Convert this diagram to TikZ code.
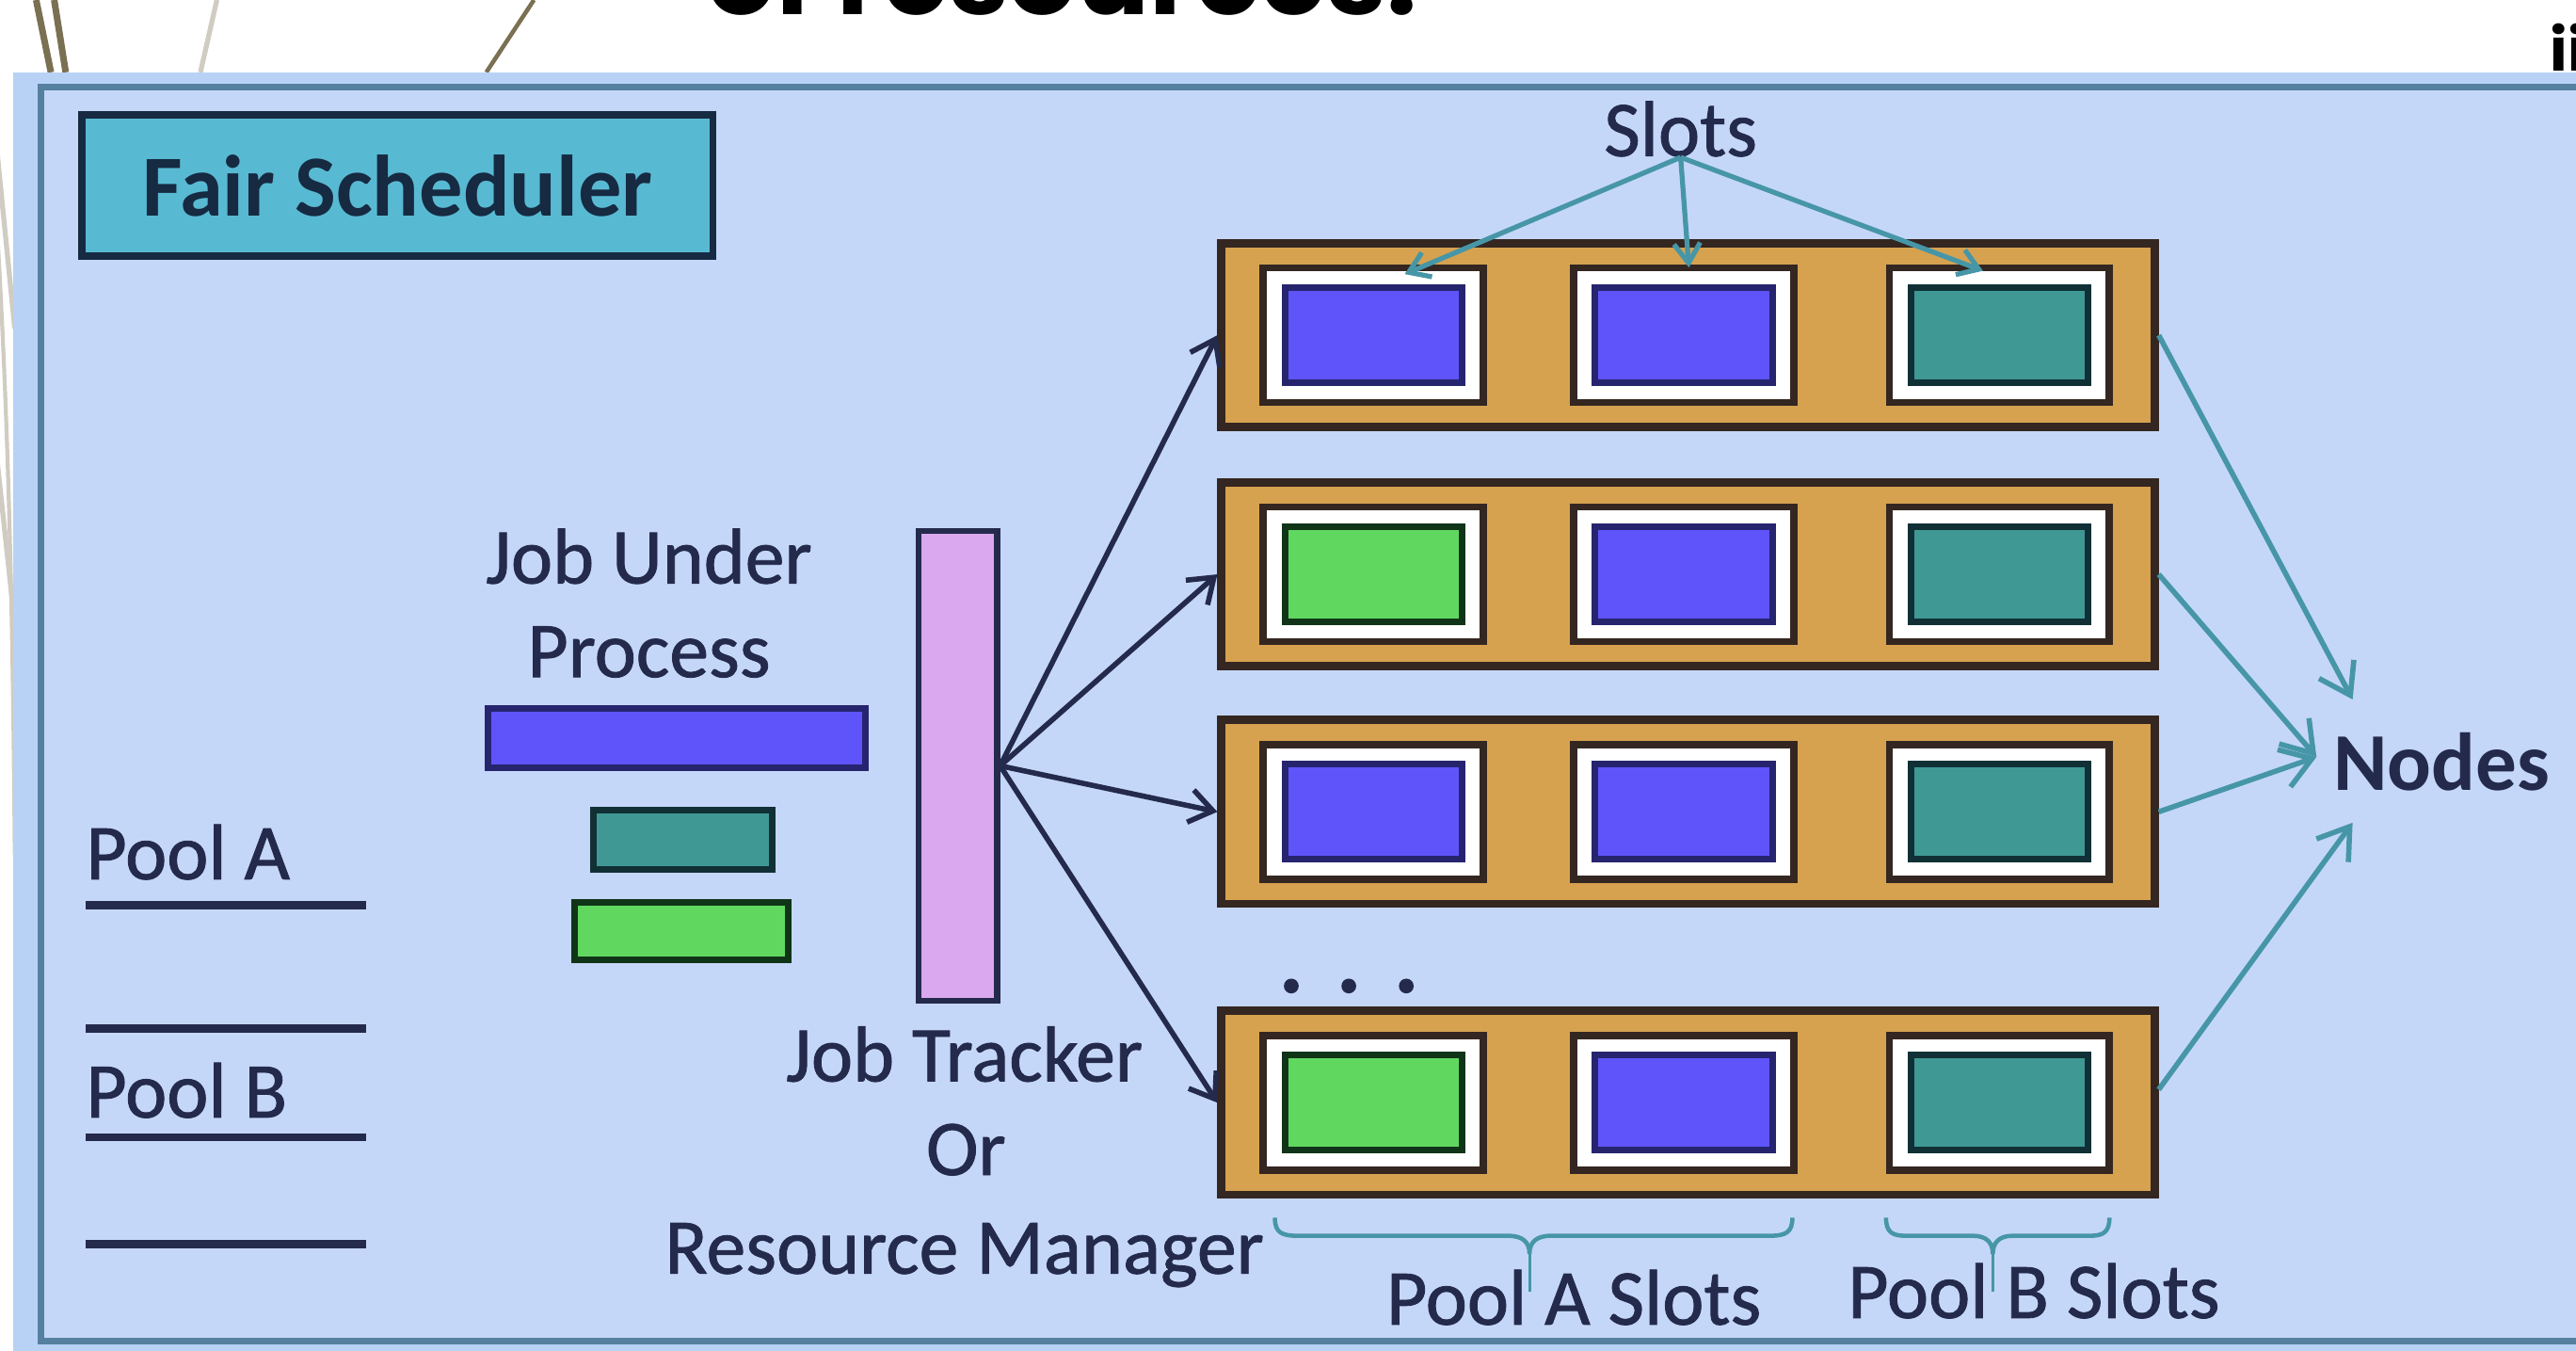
\documentclass[tikz,border=0pt]{standalone}
\usepackage{fontspec}
\setmainfont{Carlito}
\newfontfamily\lblfont{Carlito}[FakeBold=1.0]
\newfontfamily\headfont{Poppins}
\usetikzlibrary{arrows.meta,calc}

\definecolor{panelfill}{RGB}{197,215,248}
\definecolor{panelband}{RGB}{184,210,245}
\definecolor{panelline}{RGB}{86,128,160}
\definecolor{ink}{RGB}{36,42,76}
\definecolor{fsfill}{RGB}{88,186,210}
\definecolor{fsline}{RGB}{22,42,66}
\definecolor{nodefill}{RGB}{214,162,80}
\definecolor{nodeline}{RGB}{52,38,32}
\definecolor{jobblue}{RGB}{94,84,250}
\definecolor{jobblueline}{RGB}{38,36,110}
\definecolor{jobteal}{RGB}{64,152,148}
\definecolor{jobtealline}{RGB}{16,48,54}
\definecolor{jobgreen}{RGB}{96,216,96}
\definecolor{jobgreenline}{RGB}{16,52,24}
\definecolor{trackerfill}{RGB}{218,168,238}
\definecolor{arrowteal}{RGB}{70,150,168}
\definecolor{olive}{RGB}{122,112,82}
\definecolor{pale}{RGB}{208,204,194}

% one drawing unit
\newcommand{\dpx}{0.5pt}

\tikzset{
  lbl/.style={inner sep=0pt, text=ink, font=\lblfont\fontsize{24}{28}\selectfont},
  rowbox/.style={draw=nodeline, line width=2.5pt, fill=nodefill,
    minimum width=568*\dpx, minimum height=112*\dpx, inner sep=0pt},
  slotframe/.style={draw=nodeline, line width=2.2pt, fill=white,
    minimum width=134*\dpx, minimum height=82*\dpx, inner sep=0pt},
  task/.style={line width=2pt, minimum width=108*\dpx, minimum height=58*\dpx, inner sep=0pt},
  taskblue/.style={task, draw=jobblueline, fill=jobblue},
  taskteal/.style={task, draw=jobtealline, fill=jobteal},
  taskgreen/.style={task, draw=jobgreenline, fill=jobgreen},
  bar/.style={line width=2pt, inner sep=0pt},
  jtarrow/.style={draw=ink, line width=1.6pt, -{Straight Barb[length=7pt,width=10pt]}},
  ndarrow/.style={draw=arrowteal, line width=1.6pt, -{Straight Barb[length=9pt,width=12pt]}},
  slotarrow/.style={draw=arrowteal, line width=1.5pt, -{Straight Barb[length=6pt,width=8pt]}},
  bracket/.style={draw=arrowteal, line width=1.3pt},
  poolline/.style={draw=ink, line width=2.5pt},
}

\begin{document}
\begin{tikzpicture}[x=0.5pt, y=-0.5pt]
\useasboundingbox (0,0) rectangle (1568,822);
\clip (0,0) rectangle (1568,822);

% slide background and decorative strokes
\fill[white] (0,0) rectangle (1568,822);
\draw[pale, line width=1.5pt] (-5,60) -- (9,200);
\draw[pale, line width=1.5pt] (-5,250) -- (9,380);
\draw[pale, line width=1.2pt] (-3,120) .. controls (6,260) and (8,400) .. (9,520);
\draw[olive, line width=2pt] (22,0) -- (31,44);
\draw[olive, line width=2pt] (33,0) -- (40,44);
\draw[pale, line width=1.5pt] (132,0) -- (122,44);
\draw[olive, line width=1.3pt] (325,0) -- (296,44);

% heading text running off the top edge
\node[anchor=base west, inner sep=0pt, text=black] (heading) at (430,9)
  {\resizebox{216pt}{!}{\headfont\bfseries of resources.}};
\node[anchor=base west, inner sep=0pt, text=black] (sidetext) at (1552,43)
  {\headfont\bfseries\fontsize{18}{20}\selectfont ii};

% diagram panel
\fill[panelband] (8,44) rectangle (1580,830);
\draw[panelline, line width=2pt, fill=panelfill] (25,53) rectangle (1600,816);

% title box
\node[draw=fsline, line width=2.2pt, fill=fsfill, minimum width=384*\dpx,
  minimum height=86*\dpx, inner sep=0pt, text=fsline,
  font=\bfseries\fontsize{26.5}{30}\selectfont] (fs) at (242,113) {Fair Scheduler};

% pools
\node[lbl, anchor=base west] (poolA) at (52,535) {Pool A};
\node[lbl, anchor=base west] (poolB) at (52,680) {Pool B};
\draw[poolline] (52,551) -- (223,551);
\draw[poolline] (52,626) -- (223,626);
\draw[poolline] (52,692) -- (223,692);
\draw[poolline] (52,757) -- (223,757);

% jobs under process
\node[lbl, anchor=base] (jup1) at (395,355) {Job Under};
\node[lbl, anchor=base] (jup2) at (395,412) {Process};
\node[bar, draw=jobblueline, fill=jobblue, minimum width=230*\dpx, minimum height=36*\dpx] (jobA) at (412,449) {};
\node[bar, draw=jobtealline, fill=jobteal, minimum width=109*\dpx, minimum height=36*\dpx] (jobB) at (415.5,511) {};
\node[bar, draw=jobgreenline, fill=jobgreen, minimum width=130*\dpx, minimum height=35*\dpx] (jobC) at (415,566.5) {};

% job tracker
\node[draw=ink, line width=1.8pt, fill=trackerfill, minimum width=48*\dpx,
  minimum height=286*\dpx, inner sep=0pt] (tracker) at (583,466) {};
\node[lbl, anchor=base] (jt1) at (587,658) {Job Tracker};
\node[lbl, anchor=base] (jt2) at (588,715) {Or};
\node[lbl, anchor=base] (jt3) at (587,775) {Resource Manager};

% worker nodes with their slots
\foreach \r/\y in {1/204, 2/349.5, 3/494, 4/671} {
  \node[rowbox] (row\r) at (1027.5,\y) {};
  \foreach \c/\x in {1/836, 2/1025, 3/1217}
    \node[slotframe] (slot\r\c) at (\x,\y) {};
}
\node[taskblue]  (task11) at (slot11) {};
\node[taskblue]  (task12) at (slot12) {};
\node[taskteal]  (task13) at (slot13) {};
\node[taskgreen] (task21) at (slot21) {};
\node[taskblue]  (task22) at (slot22) {};
\node[taskteal]  (task23) at (slot23) {};
\node[taskblue]  (task31) at (slot31) {};
\node[taskblue]  (task32) at (slot32) {};
\node[taskteal]  (task33) at (slot33) {};
\node[taskgreen] (task41) at (slot41) {};
\node[taskblue]  (task42) at (slot42) {};
\node[taskteal]  (task43) at (slot43) {};

\foreach \x in {786,821,856} \fill[ink] (\x,600) circle[radius=4.5];

% slots label
\node[lbl, anchor=base] (slots) at (1023,95) {Slots};
\draw[slotarrow] (slots.south) -- ($(slot11.north)+(19,6)$);
\draw[slotarrow] (slots.south) -- ($(slot12.north)+(3,2)$);
\draw[slotarrow] (slots.south) -- ($(slot13.north)+(-10,4)$);

% dispatch from the tracker
\draw[jtarrow] (tracker.east) -- (row1.west);
\draw[jtarrow] (tracker.east) -- (row2.west);
\draw[jtarrow] (tracker.east) -- (row3.west);
\draw[jtarrow] (tracker.east) -- (row4.west);

% nodes label
\node[lbl, anchor=base west, font=\bfseries\fontsize{25}{30}\selectfont] (nodes) at (1420,481) {Nodes};
\draw[ndarrow] (row1.east) -- ($(nodes.west)+(12,-38)$);
\draw[ndarrow] (row2.east) -- ($(nodes.west)+(-10,-3)$);
\draw[ndarrow] (row3.east) -- ($(nodes.west)+(-10,-3)$);
\draw[ndarrow] ($(row4.east)+(0,-8)$) -- ($(nodes.west)+(12,37)$);

% slot groups
\draw[bracket] (776,741) .. controls (776,750) and (780,752) .. (790,752) -- (918,752)
  .. controls (927,752) and (931,756) .. (931,763)
  .. controls (931,756) and (935,752) .. (944,752) -- (1077,752)
  .. controls (1087,752) and (1091,750) .. (1091,741);
\draw[bracket, line width=0.8pt] (931,763) -- (931,786);
\draw[bracket] (1148,741) .. controls (1148,750) and (1152,752) .. (1160,752) -- (1201,752)
  .. controls (1209,752) and (1213,756) .. (1213,763)
  .. controls (1213,756) and (1217,752) .. (1225,752) -- (1272,752)
  .. controls (1280,752) and (1284,750) .. (1284,741);
\draw[bracket, line width=0.8pt] (1213,763) -- (1213,786);
\node[lbl, anchor=base] (slotsA) at (958,806) {Pool A Slots};
\node[lbl, anchor=base] (slotsB) at (1238,802) {Pool B Slots};
\end{tikzpicture}
\end{document}
